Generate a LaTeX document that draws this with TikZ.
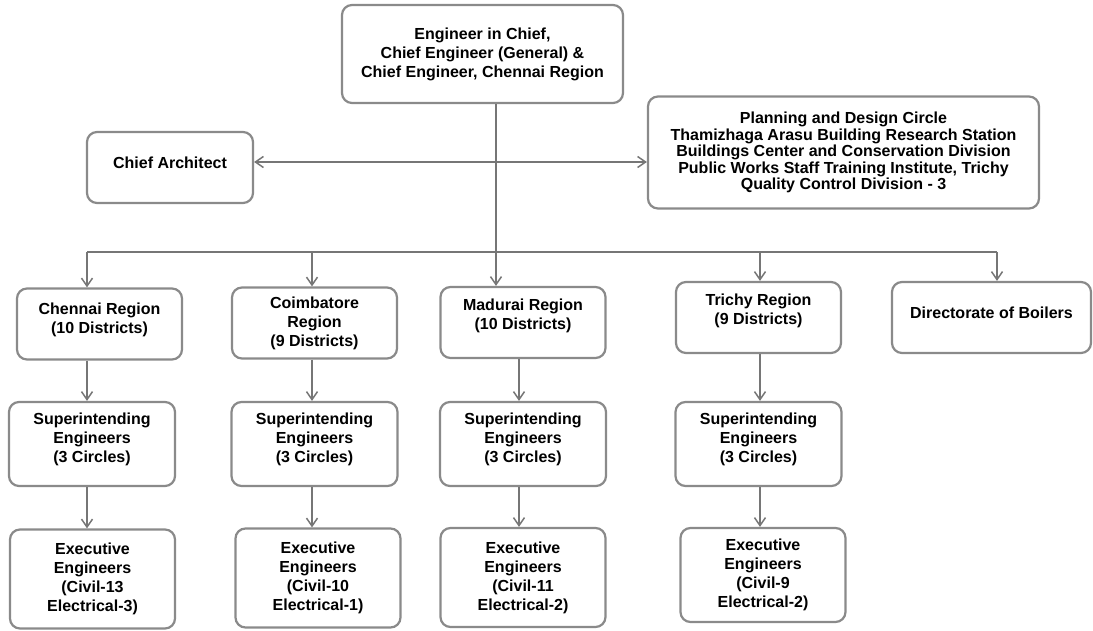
\documentclass[tikz,border=0pt]{standalone}
\usepackage{fontspec}
\setmainfont{Liberation Sans}
\usetikzlibrary{arrows.meta}
\usetikzlibrary{calc}

\definecolor{boxgray}{RGB}{138,138,138}
\definecolor{linkgray}{RGB}{118,118,118}

\tikzset{
  unit/.style={draw=boxgray, line width=2.2pt, rounded corners=10pt, align=center,
    inner sep=0pt, font=\fontsize{16}{19}\selectfont\bfseries},
  region/.style={unit, minimum width=165pt, minimum height=71pt},
  sebox/.style={unit, minimum width=166pt, minimum height=84pt},
  eebox/.style={unit, minimum width=165pt, minimum height=99pt},
  lift/.style={text depth=#1},
  link/.style={draw=linkgray, line width=1.5pt},
  >={Straight Barb[length=8pt,width=11pt]}
}

\begin{document}
\begin{tikzpicture}[x=1pt, y=-1pt]
\useasboundingbox (0,0) rectangle (1093,630);

% top level
\node[unit, minimum width=281pt, minimum height=98pt] (chief) at (482.5,54)
  {Engineer in Chief,\\Chief Engineer (General) \&\\Chief Engineer, Chennai Region};
\node[unit, minimum width=166pt, minimum height=71pt, lift=10pt] (archt) at (170,167.5) {Chief Architect};
\node[unit, minimum width=391pt, minimum height=112pt, font=\fontsize{16}{16.5}\selectfont\bfseries] (plan) at (843.5,152.5)
  {Planning and Design Circle\\Thamizhaga Arasu Building Research Station\\Buildings Center and Conservation Division\\Public Works Staff Training Institute, Trichy\\Quality Control Division - 3};

% regions
\node[region, lift=12pt] (chen) at (99.5,324) {Chennai Region\\(10 Districts)};
\node[region] (coim) at (314.5,323) {Coimbatore\\Region\\(9 Districts)};
\node[region, lift=16pt] (madr) at (523,322.5) {Madurai Region\\(10 Districts)};
\node[region, lift=16pt] (trch) at (758.5,317.5) {Trichy Region\\(9 Districts)};
\node[region, minimum width=199pt, lift=10pt] (boil) at (991.5,317.5) {Directorate of Boilers};

% superintending engineers
\foreach \nm/\cx in {se1/92, se2/314.5, se3/523, se4/758.5} {
  \node[sebox, lift=12pt] (\nm) at (\cx,444) {Superintending\\Engineers\\(3 Circles)};
}

% executive engineers
\node[eebox] (ee1) at (92.5,579) {Executive\\Engineers\\(Civil-13\\Electrical-3)};
\node[eebox] (ee2) at (318,578) {Executive\\Engineers\\(Civil-10\\Electrical-1)};
\node[eebox] (ee3) at (523,577.5) {Executive\\Engineers\\(Civil-11\\Electrical-2)};
\node[eebox, minimum height=94pt] (ee4) at (763,575) {Executive\\Engineers\\(Civil-9\\Electrical-2)};

% connectors
\coordinate (hub) at (496,162);
\coordinate (b1) at (87,252);
\coordinate (b2) at (312,252);
\coordinate (b3) at (496,252);
\coordinate (b4) at (760,252);
\coordinate (b5) at (997,252);
\coordinate (m3) at (519,252);

\draw[link] (hub |- chief.south) -- (b3);
\draw[link, <->] (hub -| archt.east) -- (hub -| plan.west);
\draw[link] (b1) -- (b5);
\draw[link, ->] (b3) -- (b3 |- madr.north);
\draw[link, ->] (b5) -- (b5 |- boil.north);
\draw[link, ->] (m3 |- madr.south) -- (m3 |- se3.north);
\draw[link, ->] (m3 |- se3.south) -- (m3 |- ee3.north);
\foreach \c/\r/\s/\e in {b1/chen/se1/ee1, b2/coim/se2/ee2, b4/trch/se4/ee4} {
  \draw[link, ->] (\c) -- (\c |- \r.north);
  \draw[link, ->] (\c |- \r.south) -- (\c |- \s.north);
  \draw[link, ->] (\c |- \s.south) -- (\c |- \e.north);
}
\end{tikzpicture}
\end{document}
